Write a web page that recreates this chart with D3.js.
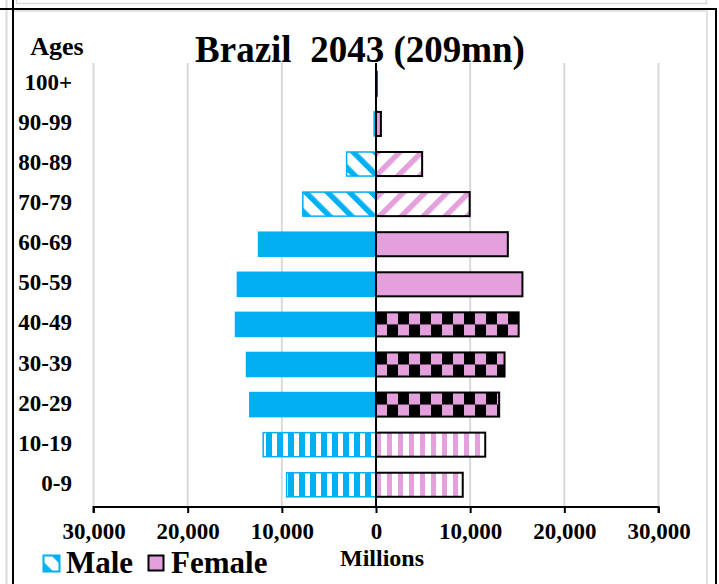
<!DOCTYPE html>
<html>
<head>
<meta charset="utf-8">
<script src="https://cdn.jsdelivr.net/npm/d3@7"></script>
<style>
  html, body { margin: 0; padding: 0; background: #fff; }
  svg { display: block; }
  text { font-family: "Liberation Serif", "Times New Roman", serif; font-weight: bold; fill: #000; }
</style>
</head>
<body>
<svg id="chart" width="719" height="584"></svg>
<script>
// ---- data (thousands) ----
const categories = ["0-9","10-19","20-29","30-39","40-49","50-59","60-69","70-79","80-89","90-99","100+"];
const maleValues = [9570, 12060, 13480, 13830, 15000, 14800, 12550, 7850, 3200, 280, 40];
const femaleValues = [9210, 11600, 13080, 13650, 15150, 15550, 14000, 9950, 4900, 520, 60];
const tickValues = [-30000, -20000, -10000, 0, 10000, 20000, 30000];
const titleText = "Brazil\u00a0\u00a02043 (209mn)";
const legendLabels = ["Male", "Female"];

// ---- styles ----
const CYAN = "#00B0F0";
const PINK = "#E4A0DC";
const GRID = "#D9D9D9";
// fill style by age group
const fillStyle = {
  "0-9": "vstripe", "10-19": "vstripe",
  "20-29": "check", "30-39": "check", "40-49": "check",
  "50-59": "solid", "60-69": "solid",
  "70-79": "diag", "80-89": "diag",
  "90-99": "solid", "100+": "solid"
};

const svg = d3.select("#chart");
const defs = svg.append("defs");

// ---- frame ----
const frame = svg.append("g");
frame.append("rect").attr("x", 16.5).attr("y", -6).attr("width", 690).attr("height", 9.5)
  .attr("fill", "none").attr("stroke", GRID).attr("stroke-width", 1.5);
frame.append("line").attr("x1", 6.5).attr("x2", 6.5).attr("y1", 0).attr("y2", 584).attr("stroke", GRID).attr("stroke-width", 2);
frame.append("line").attr("x1", 14).attr("x2", 707).attr("y1", 11).attr("y2", 11).attr("stroke", GRID).attr("stroke-width", 1.5);
frame.append("line").attr("x1", 707).attr("x2", 707).attr("y1", 11).attr("y2", 584).attr("stroke", GRID).attr("stroke-width", 1.5);
frame.append("line").attr("x1", 13).attr("x2", 13).attr("y1", 0).attr("y2", 584).attr("stroke", "#000").attr("stroke-width", 2);
frame.append("line").attr("x1", 0).attr("x2", 717).attr("y1", 9).attr("y2", 9).attr("stroke", "#000").attr("stroke-width", 2);
frame.append("line").attr("x1", 716).attr("x2", 716).attr("y1", 9).attr("y2", 584).attr("stroke", "#000").attr("stroke-width", 2);

// ---- scales ----
const x = d3.scaleLinear().domain([-30000, 30000]).range([93.5, 658.5]);
const y = d3.scaleBand().domain(categories.slice().reverse()).range([63.8, 504.8]).paddingInner(0.4).paddingOuter(0.2);
const bw = y.bandwidth();

// ---- patterns ----
function stripePattern(id, color, width) {
  const p = defs.append("pattern").attr("id", id).attr("patternUnits", "userSpaceOnUse")
    .attr("width", 11).attr("height", 10).attr("x", x(0));
  p.append("rect").attr("width", 11).attr("height", 10).attr("fill", "#fff");
  p.append("rect").attr("x", 0).attr("width", width).attr("height", 10).attr("fill", color);
}
stripePattern("mV", CYAN, 6);
stripePattern("fV", PINK, 5);

function diagPattern(id, color, angle) {
  const p = defs.append("pattern").attr("id", id).attr("patternUnits", "userSpaceOnUse")
    .attr("width", 15.5).attr("height", 10).attr("patternTransform", `rotate(${angle})`);
  p.append("rect").attr("width", 15.5).attr("height", 10).attr("fill", "#fff");
  p.append("rect").attr("width", 5.5).attr("height", 10).attr("fill", color);
}
diagPattern("mD", CYAN, -45);
diagPattern("fD", PINK, 45);

categories.forEach((c, i) => {
  if (fillStyle[c] === "check") {
    const p = defs.append("pattern").attr("id", "chk" + i).attr("patternUnits", "userSpaceOnUse")
      .attr("width", 22).attr("height", bw).attr("x", x(0)).attr("y", y(c));
    p.append("rect").attr("width", 22).attr("height", bw).attr("fill", PINK);
    p.append("rect").attr("x", 0).attr("y", 0).attr("width", 11).attr("height", bw / 2).attr("fill", "#000");
    p.append("rect").attr("x", 11).attr("y", bw / 2).attr("width", 11).attr("height", bw / 2).attr("fill", "#000");
  }
});

function maleFill(c) {
  const s = fillStyle[c];
  if (s === "vstripe") return "url(#mV)";
  if (s === "diag") return "url(#mD)";
  return CYAN;
}
function femaleFill(c, i) {
  const s = fillStyle[c];
  if (s === "vstripe") return "url(#fV)";
  if (s === "diag") return "url(#fD)";
  if (s === "check") return "url(#chk" + i + ")";
  return PINK;
}

// ---- gridlines ----
svg.append("g").selectAll("line").data(tickValues.filter(d => d !== 0)).join("line")
  .attr("x1", d => x(d)).attr("x2", d => x(d)).attr("y1", 63).attr("y2", 507)
  .attr("stroke", GRID).attr("stroke-width", 2);

// ---- bars ----
const rows = categories.map((c, i) => ({ c, i, m: maleValues[i], f: femaleValues[i] }));
svg.append("g").selectAll("rect").data(rows).join("rect")
  .attr("x", d => x(-d.m) + 0.75).attr("y", d => y(d.c))
  .attr("width", d => Math.max(0.5, x(0) - x(-d.m) - 0.75)).attr("height", bw)
  .attr("fill", d => maleFill(d.c))
  .attr("stroke", CYAN).attr("stroke-width", 1.5);

svg.append("g").selectAll("rect").data(rows).join("rect")
  .attr("x", x(0)).attr("y", d => y(d.c))
  .attr("width", d => x(d.f) - x(0)).attr("height", bw)
  .attr("fill", d => femaleFill(d.c, d.i))
  .attr("stroke", "#000").attr("stroke-width", 2);

// ---- zero line ----
svg.append("line").attr("x1", x(0)).attr("x2", x(0)).attr("y1", 63).attr("y2", 507)
  .attr("stroke", "#000").attr("stroke-width", 2);

// ---- x axis ----
const xAxis = d3.axisBottom(x).tickValues(tickValues).tickSize(6).tickPadding(10)
  .tickFormat(d => d3.format(",")(Math.abs(d)));
const gx = svg.append("g").attr("transform", "translate(0,507)").call(xAxis);
gx.select(".domain").attr("stroke", "#000").attr("stroke-width", 2).attr("d", `M${x(-30000)},6V0H${x(30000)}V6`);
gx.selectAll(".tick line").attr("stroke", "#000").attr("stroke-width", 2);
gx.selectAll(".tick text").attr("font-size", 23).attr("font-family", "Liberation Serif").attr("font-weight", "bold").attr("fill", "#000");

// ---- y labels ----
svg.append("g").selectAll("text").data(categories).join("text")
  .attr("x", 72).attr("y", d => y(d) + bw / 2 - 2).attr("dy", "0.35em")
  .attr("text-anchor", "end").attr("font-size", 23).text(d => d);

svg.append("text").attr("x", 57).attr("y", 55).attr("text-anchor", "middle").attr("font-size", 26).text("Ages");

// ---- title ----
svg.append("text").attr("x", 360).attr("y", 62).attr("text-anchor", "middle").attr("font-size", 37).text(titleText);

// ---- axis title ----
svg.append("text").attr("x", 382).attr("y", 566).attr("text-anchor", "middle").attr("font-size", 24).text("Millions");

// ---- legend ----
const lg = svg.append("g");
lg.append("rect").attr("x", 43.5).attr("y", 555.5).attr("width", 16).attr("height", 16)
  .attr("fill", "url(#mD)").attr("stroke", CYAN).attr("stroke-width", 2);
lg.append("text").attr("x", 66).attr("y", 573).attr("font-size", 31).text(legendLabels[0]);
lg.append("rect").attr("x", 148.5).attr("y", 555.5).attr("width", 15).attr("height", 15)
  .attr("fill", PINK).attr("stroke", "#000").attr("stroke-width", 2);
lg.append("text").attr("x", 171).attr("y", 573).attr("font-size", 31).text(legendLabels[1]);
</script>
</body>
</html>
